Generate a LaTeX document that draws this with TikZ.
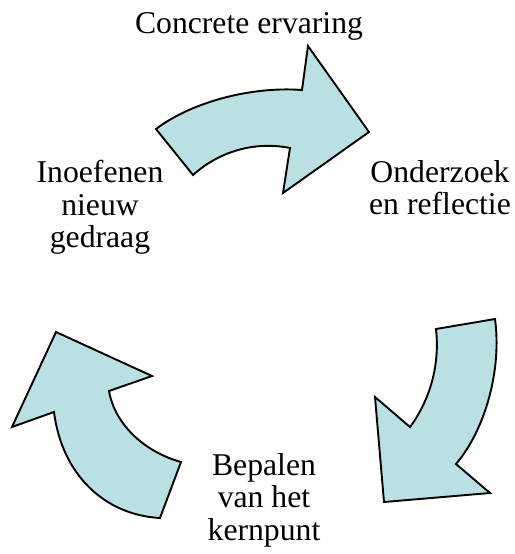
\documentclass[tikz,border=0pt]{standalone}
\usepackage{fontspec}
\setmainfont{Liberation Serif}
\usetikzlibrary{positioning}
\definecolor{cyclefill}{RGB}{187,224,227}

\begin{document}
\begin{tikzpicture}[x=0.5pt,y=-0.5pt,
    every node/.style={font=\fontsize{15.85}{16.2}\selectfont,inner sep=0pt,align=center},
    cyclearrow/.style={fill=cyclefill,draw=black,line width=0.95pt,line join=miter}]
  \useasboundingbox (0,0) rectangle (515,554);
  % Top arrow
  \draw[cyclearrow] (156,129) .. controls (190,103) and (250,86) .. (302,90)
    -- (308,46) -- (369,132) -- (283,193) -- (290,148)
    .. controls (250,140) and (215,155) .. (193,175) -- cycle;
  % Right arrow
  \draw[cyclearrow] (495,319) .. controls (502,370) and (485,430) .. (456,464)
    -- (490,493) -- (384,502) -- (375,397) -- (410,427)
    .. controls (430,400) and (440,365) .. (436,329) -- cycle;
  % Left arrow
  \draw[cyclearrow] (181,462) .. controls (145,452) and (115,425) .. (109,391)
    -- (152,376) -- (56,332) -- (12,427) -- (54,412)
    .. controls (62,475) and (105,515) .. (160,518) -- cycle;
  % Labels
  \node[anchor=base] (concrete) at (249,33) {Concrete ervaring};
  \node[anchor=north] (onderzoek) at (440,160) {Onderzoek\\en reflectie};
  \node[anchor=north] (kernpunt) at (264,453) {Bepalen\\van het\\kernpunt};
  \node[anchor=north] (inoefenen) at (100,160) {Inoefenen\\nieuw\\gedraag};
\end{tikzpicture}
\end{document}
